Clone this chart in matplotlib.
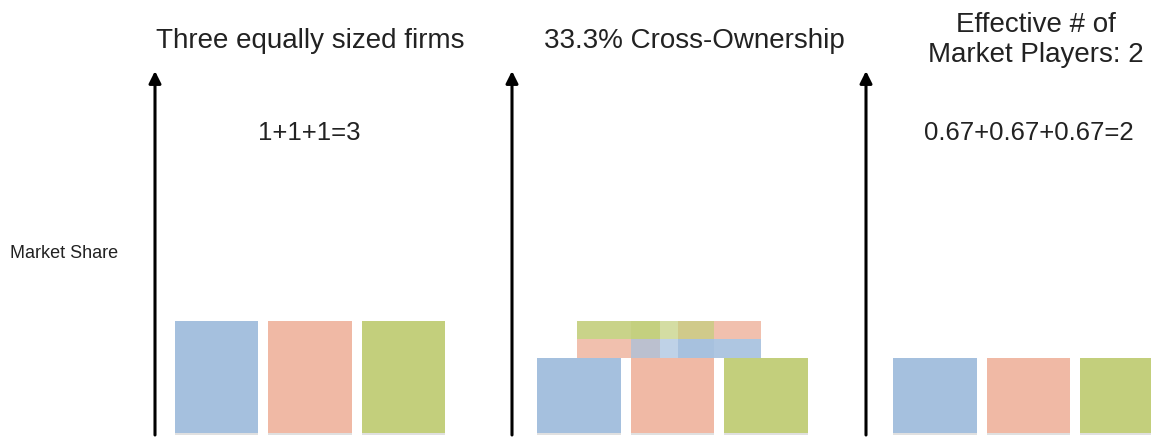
import matplotlib.pyplot as plt
import matplotlib.patheffects as pe
import numpy as np

# data
colors = ["#a5c0de", "#f0b9a5", "#c3cf7c"]   # blue, salmon, green firm
standalone_share = [1, 1, 1]
retained_share = [0.67, 0.67, 0.67]
effective_share = [0.67, 0.67, 0.67]
cross_stake = 0.33
# stake blocks in the middle panel: (top firm, bottom firm)
stake_pairs = [(2, 1), (2, 0), (1, 0)]

titles = ["Three equally sized firms", "33.3% Cross-Ownership",
          "Effective # of\nMarket Players: 2"]
sums = ["1+1+1=3", "", "0.67+0.67+0.67=2"]

# layout (pixels of a 1151x439 canvas)
W, H = 1151, 439
XU, YU = 93.5, 112.0          # px per bar slot / px per unit share
BASE = 434                     # pixel row of share = 0
panel_x = [216.5 / XU, 579 / XU, 935 / XU]
arrow_x = [155 / XU, 512 / XU, 866 / XU]
stake_pos = [0.42, 1.0, 1.5]
stake_alpha = [0.9, 0.7, 0.9]
stake_z = [3, 5, 4]
bw = 0.89

fig = plt.figure(figsize=(W / 100, H / 100), dpi=100)
ax = fig.add_axes([0, 0, 1, 1])
ax.set_xlim(0, W / XU)
ax.set_ylim(-(H - BASE) / YU, BASE / YU)
ax.axis("off")

shadow = [pe.SimplePatchShadow(offset=(0, -1.5), alpha=0.18, shadow_rgbFace="#555555"),
          pe.Normal()]

idx = np.arange(3)
for x0, shares in zip(panel_x, [standalone_share, retained_share, effective_share]):
    bars = ax.bar(x0 + idx, shares, width=bw, color=colors, zorder=2)
    for b in bars:
        b.set_path_effects(shadow)

# cross-ownership stakes stacked on the middle panel
half = cross_stake / 2
for (top, bot), pos, a, z in zip(stake_pairs, stake_pos, stake_alpha, stake_z):
    x = panel_x[1] + pos
    ax.bar(x, half, bottom=retained_share[bot], width=bw, color=colors[bot],
           alpha=a, zorder=z)
    ax.bar(x, half, bottom=retained_share[bot] + half, width=bw, color=colors[top],
           alpha=a, zorder=z)

tip = (BASE - 72) / YU
for xa in arrow_x:
    ax.annotate("", xy=(xa, tip), xytext=(xa, -2 / YU),
                arrowprops=dict(arrowstyle="-|>", color="black", lw=2.2,
                                mutation_scale=18, shrinkA=0, shrinkB=0))

font = "Liberation Sans"
tc = "#222222"


def fx(x):
    return x / W


def fy(y):
    return 1 - y / H


fig.text(fx(310), fy(41), titles[0], ha="center", va="center", fontsize=20,
         family=font, color=tc)
fig.text(fx(694), fy(41), titles[1], ha="center", va="center", fontsize=20,
         family=font, color=tc)
fig.text(fx(1036), fy(39.5), titles[2], ha="center", va="center", fontsize=20,
         family=font, color=tc, linespacing=1.2)
fig.text(fx(309), fy(133), sums[0], ha="center", va="center", fontsize=18.5,
         family=font, color=tc)
fig.text(fx(1029), fy(133), sums[2], ha="center", va="center", fontsize=18.5,
         family=font, color=tc)
fig.text(fx(10), fy(254), "Market Share", ha="left", va="center", fontsize=13,
         family=font, color=tc)

fig.savefig("out.png", dpi=100)
